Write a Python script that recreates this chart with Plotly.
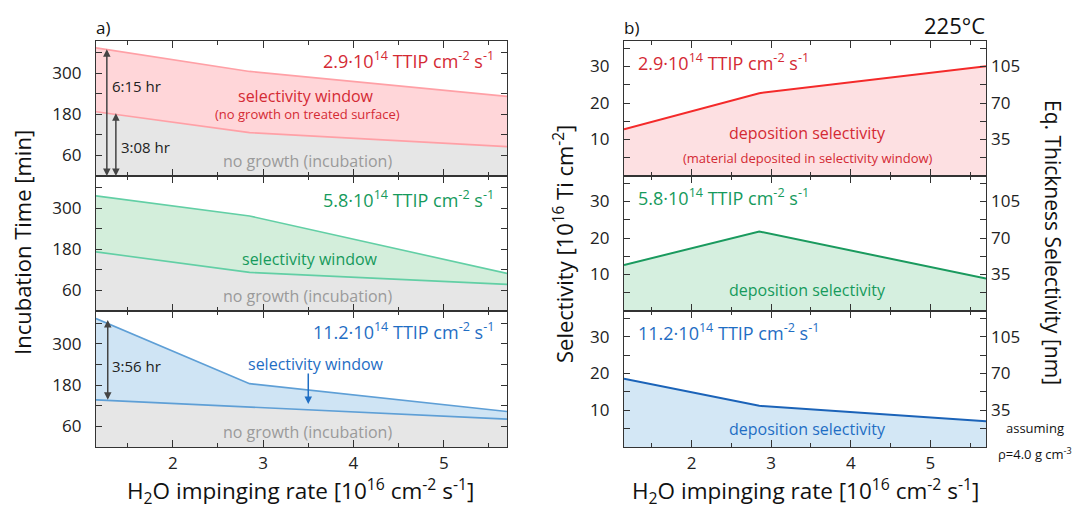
import plotly.graph_objects as go

# ---------------- data ----------------
h2o_rate = [1.15, 2.85, 5.7]

red_upper = [375, 306, 233]
red_lower = [188, 127, 86]
green_upper = [337, 278, 110]
green_lower = [173, 113, 78]
blue_upper = [373, 184, 103]
blue_lower = [137, 116, 81]

sel_red = [12.8, 22.7, 30.1]
sel_green = [12.6, 21.8, 8.9]
sel_blue = [18.6, 11.2, 7.0]

ttip_labels = ["2.9", "5.8", "11.2"]
inc_ticks = [60, 180, 300]
sel_ticks = [10, 20, 30]
thk_ticks = [35, 70, 105]
thk_factor = 3.5

# ---------------- style ----------------
W, H = 1075, 510
FONT = "Open Sans"
AX = "#333333"
GRAY_FILL = "#e6e6e6"
GRAY_TXT = "#9a9a9a"
red = dict(txt="#d42a34", lineL="#ffa0a6", fillL="#ffd6d9", lineR="#f42a2a", fillR="#fde0e2")
green = dict(txt="#169a5c", lineL="#62cfa5", fillL="#d3eedb", lineR="#1a9a5e", fillR="#d5efdf")
blue = dict(txt="#1f6ec4", lineL="#5e9fd6", fillL="#cfe4f4", lineR="#1b63b8", fillR="#d3e7f5")
sets = [(red, red_upper, red_lower, sel_red, ttip_labels[0]),
        (green, green_upper, green_lower, sel_green, ttip_labels[1]),
        (blue, blue_upper, blue_lower, sel_blue, ttip_labels[2])]

# panel pixel geometry
Lx = (96, 507)
Rx = (624, 986)
rows_px = [(41, 176), (176, 311), (311, 447)]
XR = [1.15, 5.7]
YR_INC = [0, 395]
YR_SEL = [0, 37]
LW = 1.2


def px(v):
    return v / W


def py(v):
    return 1 - v / H


fig = go.Figure()
layout = {}

for i, (c, up, lo, sel, lab) in enumerate(sets):
    r = i + 1  # left axes index
    k = i + 4  # right axes index
    s = i + 7  # secondary axes index
    xl, yl = f"x{r}", f"y{r}"
    xr, yr = f"x{k}", f"y{k}"

    # left: incubation (gray) + selectivity window
    fig.add_trace(go.Scatter(x=h2o_rate, y=lo, mode="lines", xaxis=xl, yaxis=yl,
                             line=dict(color=c["lineL"], width=1.6),
                             fill="tozeroy", fillcolor=GRAY_FILL, showlegend=False,
                             hoverinfo="skip"))
    fig.add_trace(go.Scatter(x=h2o_rate, y=up, mode="lines", xaxis=xl, yaxis=yl,
                             line=dict(color=c["lineL"], width=1.6),
                             fill="tonexty", fillcolor=c["fillL"], showlegend=False,
                             hoverinfo="skip"))
    # right: deposition selectivity
    fig.add_trace(go.Scatter(x=h2o_rate, y=sel, mode="lines", xaxis=xr, yaxis=yr,
                             line=dict(color=c["lineR"], width=2),
                             fill="tozeroy", fillcolor=c["fillR"], showlegend=False,
                             hoverinfo="skip"))

    dom_y = [py(rows_px[i][1]), py(rows_px[i][0])]
    show_xlab = (i == 2)
    xcommon = dict(range=XR, showline=True, linecolor=AX, linewidth=LW, mirror="ticks",
                   ticks="inside", ticklen=7, tickwidth=1.3, tickcolor=AX,
                   tickmode="array", tickvals=[1, 2, 3, 4, 5],
                   showticklabels=show_xlab, showgrid=False, zeroline=False,
                   minor=dict(tickmode="array", tickvals=[1.5, 2.5, 3.5, 4.5, 5.5],
                              ticklen=4, tickwidth=1.3, tickcolor=AX, ticks="inside"),
                   tickfont=dict(family=FONT, size=17, color="#222"))
    layout[f"xaxis{r}"] = dict(xcommon, domain=[px(Lx[0]), px(Lx[1])], anchor=yl)
    layout[f"xaxis{k}"] = dict(xcommon, domain=[px(Rx[0]), px(Rx[1])], anchor=yr)

    layout[f"yaxis{r}"] = dict(domain=dom_y, anchor=xl, range=YR_INC,
                               showline=True, linecolor=AX, linewidth=LW, mirror="ticks",
                               ticks="inside", ticklen=6, tickwidth=1.3, tickcolor=AX,
                               tickmode="array", tickvals=inc_ticks,
                               minor=dict(tickmode="array", tickvals=[120, 240, 360],
                                          ticklen=6, tickwidth=1.3, tickcolor=AX, ticks="inside"),
                               ticklabelstandoff=10,
                               showgrid=False, zeroline=False,
                               tickfont=dict(family=FONT, size=17, color="#222"))
    layout[f"yaxis{k}"] = dict(domain=dom_y, anchor=xr, range=YR_SEL,
                               showline=True, linecolor=AX, linewidth=LW, mirror="ticks",
                               ticks="inside", ticklen=6, tickwidth=1.3, tickcolor=AX,
                               tickmode="array", tickvals=sel_ticks,
                               minor=dict(tickmode="array", tickvals=[5, 15, 25, 35],
                                          ticklen=6, tickwidth=1.3, tickcolor=AX, ticks="inside"),
                               ticklabelstandoff=10,
                               showgrid=False, zeroline=False,
                               tickfont=dict(family=FONT, size=17, color="#222"))
    layout[f"yaxis{s}"] = dict(overlaying=yr, anchor=xr, side="right",
                               range=[YR_SEL[0] * thk_factor, YR_SEL[1] * thk_factor],
                               showline=False, ticks="", tickmode="array", tickvals=thk_ticks,
                               ticklabelstandoff=4,
                               showgrid=False, zeroline=False,
                               tickfont=dict(family=FONT, size=17, color="#222"))
    # invisible point so the secondary (thickness) axis is drawn
    fig.add_trace(go.Scatter(x=[h2o_rate[0]], y=[sel[0] * thk_factor], mode="markers",
                             marker=dict(opacity=0), xaxis=xr, yaxis=f"y{s}",
                             showlegend=False, hoverinfo="skip"))

ann = []
ttl = "·10<sup>14</sup> TTIP cm<sup>-2</sup> s<sup>-1</sup>"
label_y_left = [338, 328, 337]
for i, (c, up, lo, sel, lab) in enumerate(sets):
    r = i + 1
    k = i + 4
    ann.append(dict(x=5.58, y=label_y_left[i], xref=f"x{r}", yref=f"y{r}", text=lab + ttl,
                    xanchor="right", yanchor="middle", showarrow=False,
                    font=dict(family=FONT, size=18, color=c["txt"])))
    ann.append(dict(x=1.3, y=31.3, xref=f"x{k}", yref=f"y{k}", text=lab + ttl,
                    xanchor="left", yanchor="middle", showarrow=False,
                    font=dict(family=FONT, size=18, color=c["txt"])))
    ann.append(dict(x=3.49, y=44, xref=f"x{r}", yref=f"y{r}", text="no growth (incubation)",
                    showarrow=False, font=dict(family=FONT, size=16, color=GRAY_TXT)))

# selectivity window labels
ann.append(dict(x=3.47, y=234, xref="x1", yref="y1", text="selectivity window", showarrow=False,
                font=dict(family=FONT, size=16, color=red["txt"])))
ann.append(dict(x=3.49, y=180, xref="x1", yref="y1", text="(no growth on treated surface)",
                showarrow=False, font=dict(family=FONT, size=13, color=red["txt"])))
ann.append(dict(x=3.52, y=151, xref="x2", yref="y2", text="selectivity window", showarrow=False,
                font=dict(family=FONT, size=16, color=green["txt"])))
ann.append(dict(x=3.58, y=240, xref="x3", yref="y3", text="selectivity window", showarrow=False,
                font=dict(family=FONT, size=16, color=blue["txt"])))
ann.append(dict(x=3.5, y=125, ax=3.5, ay=218, xref="x3", yref="y3", axref="x3", ayref="y3",
                text="", showarrow=True, arrowhead=2, arrowsize=1, arrowwidth=1.5,
                arrowcolor=blue["txt"]))

# deposition selectivity labels
ann.append(dict(x=3.46, y=11.7, xref="x4", yref="y4", text="deposition selectivity", showarrow=False,
                font=dict(family=FONT, size=16, color=red["txt"])))
ann.append(dict(x=3.46, y=4.8, xref="x4", yref="y4", text="(material deposited in selectivity window)",
                showarrow=False, font=dict(family=FONT, size=13, color=red["txt"])))
ann.append(dict(x=3.46, y=5.7, xref="x5", yref="y5", text="deposition selectivity", showarrow=False,
                font=dict(family=FONT, size=16, color=green["txt"])))
ann.append(dict(x=3.46, y=5.0, xref="x6", yref="y6", text="deposition selectivity", showarrow=False,
                font=dict(family=FONT, size=16, color=blue["txt"])))

# double arrows with durations
ARC = "#444444"
def dbl_arrow(x, y0, y1, xr, yr):
    return dict(x=x, y=y0, ax=x, ay=y1, xref=xr, yref=yr, axref=xr, ayref=yr, text="",
                showarrow=True, arrowhead=2, arrowside="end+start", arrowsize=1,
                arrowwidth=1.5, arrowcolor=ARC)

ann.append(dbl_arrow(1.27, 0, red_upper[0], "x1", "y1"))
ann.append(dbl_arrow(1.37, 0, red_lower[0], "x1", "y1"))
ann.append(dbl_arrow(1.28, blue_lower[0], blue_upper[0], "x3", "y3"))
ann.append(dict(x=1.31, y=262, xref="x1", yref="y1", text="6:15 hr", xanchor="left", showarrow=False,
                font=dict(family=FONT, size=15, color="#222")))
ann.append(dict(x=1.41, y=86, xref="x1", yref="y1", text="3:08 hr", xanchor="left", showarrow=False,
                font=dict(family=FONT, size=15, color="#222")))
ann.append(dict(x=1.31, y=236, xref="x3", yref="y3", text="3:56 hr", xanchor="left", showarrow=False,
                font=dict(family=FONT, size=15, color="#222")))

# panel labels and titles
def pa(x, y, text, size, xanchor="center", yanchor="middle", angle=0, color="#111"):
    return dict(x=px(x), y=py(y), xref="paper", yref="paper", text=text, showarrow=False,
                xanchor=xanchor, yanchor=yanchor, textangle=angle,
                font=dict(family=FONT, size=size, color=color))

ann.append(pa(94, 27, "a)", 17, xanchor="left"))
ann.append(pa(622, 27, "b)", 17, xanchor="left"))
ann.append(pa(987, 25, "225°C", 22, xanchor="right"))
ann.append(pa(22, 243, "Incubation Time [min]", 22, angle=-90))
ann.append(pa(563, 244, "Selectivity [10<sup>16</sup> Ti cm<sup>-2</sup>]", 22, angle=-90))
ann.append(pa(1053, 242, "Eq. Thickness Selectivity [nm]", 21, angle=90))
xt = "H<sub>2</sub>O impinging rate [10<sup>16</sup> cm<sup>-2</sup> s<sup>-1</sup>]"
ann.append(pa(300, 491, xt, 22.5))
ann.append(pa(805, 491, xt, 22.5))
ann.append(pa(1035, 428, "assuming", 13))
ann.append(pa(1035, 453, "ρ=4.0 g cm<sup>-3</sup>", 13))

fig.update_layout(**layout)
fig.update_layout(width=W, height=H, margin=dict(l=0, r=0, t=0, b=0),
                  paper_bgcolor="white", plot_bgcolor="white",
                  showlegend=False, annotations=ann,
                  font=dict(family=FONT, color="#222"))

fig.write_html("out.html", config={"displayModeBar": False},
               post_script="document.body.style.margin='0';document.body.style.padding='0';")
